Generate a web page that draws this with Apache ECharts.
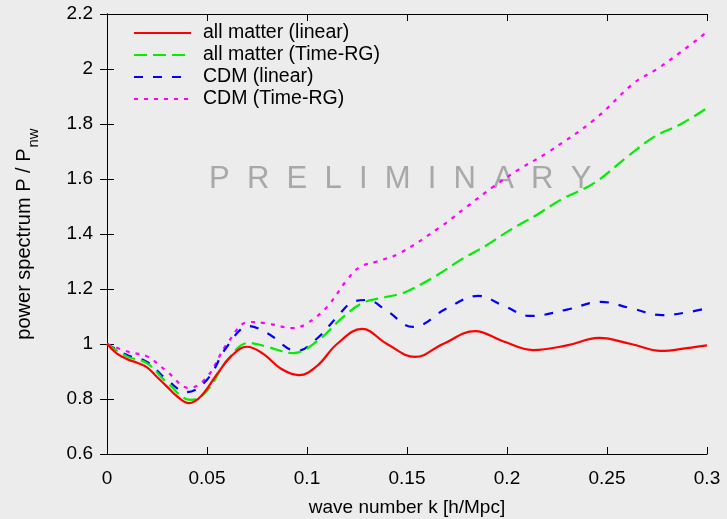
<!DOCTYPE html>
<html>
<head>
<meta charset="utf-8">
<script src="https://cdn.jsdelivr.net/npm/echarts@6/dist/echarts.min.js"></script>
<style>
  html, body { margin: 0; padding: 0; background: #ececec; }
  #chart { width: 727px; height: 519px; }
</style>
</head>
<body>
<div id="chart"></div>
<script>
// 各曲线的数据
const kRed = [0, 0.005, 0.01, 0.015, 0.02, 0.025, 0.03, 0.035, 0.041, 0.047, 0.055, 0.062, 0.07, 0.078, 0.087, 0.096, 0.105, 0.115, 0.1275, 0.14, 0.154, 0.168, 0.184, 0.198, 0.213, 0.23, 0.246, 0.262, 0.277, 0.29, 0.3];
const redVals = [1.0, 0.965, 0.945, 0.932, 0.915, 0.88, 0.845, 0.81, 0.785, 0.81, 0.89, 0.955, 0.99, 0.965, 0.91, 0.887, 0.92, 1.0, 1.055, 1.0, 0.953, 1.0, 1.047, 1.01, 0.978, 0.995, 1.022, 1.0, 0.975, 0.985, 0.995];

const kGreen = [0, 0.01, 0.02, 0.03, 0.042, 0.05, 0.06, 0.071, 0.08, 0.093, 0.105, 0.118, 0.128, 0.137, 0.147, 0.1515, 0.165, 0.1766, 0.19, 0.2017, 0.215, 0.2268, 0.2435, 0.26, 0.2735, 0.287, 0.3];
const greenVals = [1.0, 0.955, 0.93, 0.86, 0.797, 0.83, 0.94, 1.004, 0.99, 0.967, 1.01, 1.098, 1.15, 1.167, 1.183, 1.196, 1.25, 1.305, 1.36, 1.415, 1.47, 1.524, 1.585, 1.68, 1.753, 1.8, 1.858];

const kBlue = [0, 0.01, 0.02, 0.03, 0.04, 0.05, 0.06, 0.071, 0.08, 0.095, 0.105, 0.115, 0.123, 0.13, 0.14, 0.153, 0.17, 0.1857, 0.198, 0.2118, 0.23, 0.247, 0.262, 0.2776, 0.29, 0.3];
const blueVals = [1.0, 0.96, 0.935, 0.87, 0.825, 0.87, 0.99, 1.065, 1.04, 0.975, 1.02, 1.098, 1.153, 1.16, 1.12, 1.062, 1.13, 1.175, 1.14, 1.102, 1.125, 1.153, 1.13, 1.105, 1.115, 1.13];

const kMagenta = [0, 0.011, 0.02, 0.03, 0.041, 0.05, 0.06, 0.071, 0.08, 0.093, 0.1, 0.11, 0.12, 0.1264, 0.135, 0.1465, 0.1665, 0.18, 0.193, 0.206, 0.22, 0.2435, 0.2635, 0.275, 0.287, 0.3];
const magentaVals = [1.0, 0.971, 0.955, 0.9, 0.84, 0.88, 1.0, 1.08, 1.075, 1.058, 1.075, 1.135, 1.233, 1.28, 1.3, 1.331, 1.425, 1.5, 1.571, 1.635, 1.695, 1.815, 1.949, 2.0, 2.062, 2.135];

const seriesNames = ['all matter (linear)', 'all matter (Time-RG)', 'CDM (linear)', 'CDM (Time-RG)'];

function pairs(ks, vs) { return ks.map((k, i) => [k, vs[i]]); }

const myChart = echarts.init(document.getElementById('chart'));
const font = 'Liberation Sans, Arial, sans-serif';

const tick = { show: true, inside: true, length: 7, lineStyle: { color: '#000' } };
const line = { show: true, lineStyle: { color: '#000', width: 1 } };

const option = {
    backgroundColor: '#ececec',
    animation: false,
    textStyle: { fontFamily: font },
    grid: { left: 107, right: 20, top: 14, bottom: 65, outerBoundsMode: 'none' },
    legend: {
        orient: 'vertical',
        left: 128, top: 18,
        itemWidth: 57, itemHeight: 10, itemGap: 2,
        itemStyle: { opacity: 0 },
        textStyle: { fontSize: 19.5, lineHeight: 19, color: '#000', fontFamily: font, padding: [0, 0, 0, 7] },
        data: seriesNames
    },
    xAxis: [
        {
            type: 'value', min: 0, max: 0.3, interval: 0.05, position: 'bottom',
            axisLine: line, axisTick: tick, splitLine: { show: false },
            axisLabel: { fontSize: 19, color: '#000', margin: 15, fontFamily: font },
            name: 'wave number k [h/Mpc]', nameLocation: 'middle', nameGap: 44,
            nameTextStyle: { fontSize: 19, color: '#000', fontFamily: font }
        },
        {
            type: 'value', min: 0, max: 0.3, interval: 0.05, position: 'top',
            axisLine: line, axisTick: tick, splitLine: { show: false }, axisLabel: { show: false }
        }
    ],
    yAxis: [
        {
            type: 'value', min: 0.6, max: 2.2, interval: 0.2, position: 'left',
            axisLine: line, axisTick: tick, splitLine: { show: false },
            axisLabel: { fontSize: 19, color: '#000', margin: 14, fontFamily: font },
            name: '{a|power spectrum P / P}{s|nw}', nameLocation: 'middle', nameGap: 73,
            nameTextStyle: {
                fontSize: 20, color: '#000', fontFamily: font,
                rich: {
                    a: { fontSize: 20, lineHeight: 20, color: '#000', fontFamily: font, verticalAlign: 'top' },
                    s: { fontSize: 15, lineHeight: 15, color: '#000', fontFamily: font, verticalAlign: 'top', padding: [12, 0, 0, 1] }
                }
            }
        },
        {
            type: 'value', min: 0.6, max: 2.2, interval: 0.2, position: 'right',
            axisLine: line, axisTick: tick, splitLine: { show: false }, axisLabel: { show: false }
        }
    ],
    graphic: [
        {
            type: 'text', left: 209, top: 164, silent: true,
            style: {
                text: 'P  R  E  L  I  M  I  N  A  R  Y',
                fill: '#a8a8a8', fontSize: 31, fontFamily: font
            }
        }
    ],
    series: [
        {
            name: seriesNames[0], type: 'line', smooth: 0.4, showSymbol: false, symbol: 'none',
            lineStyle: { color: '#ff0000', width: 2.2 }, itemStyle: { color: '#ff0000' },
            data: pairs(kRed, redVals), z: 5
        },
        {
            name: seriesNames[1], type: 'line', smooth: 0.4, showSymbol: false, symbol: 'none',
            lineStyle: { color: '#00ee00', width: 2.2, type: [13, 6] }, itemStyle: { color: '#00ee00' },
            data: pairs(kGreen, greenVals), z: 4
        },
        {
            name: seriesNames[2], type: 'line', smooth: 0.4, showSymbol: false, symbol: 'none',
            lineStyle: { color: '#0000ff', width: 2.2, type: [9, 10] }, itemStyle: { color: '#0000ff' },
            data: pairs(kBlue, blueVals), z: 3
        },
        {
            name: seriesNames[3], type: 'line', smooth: 0.4, showSymbol: false, symbol: 'none',
            lineStyle: { color: '#ff00ff', width: 2.2, type: [4, 6] }, itemStyle: { color: '#ff00ff' },
            data: pairs(kMagenta, magentaVals), z: 2
        }
    ]
};
myChart.setOption(option);
window.addEventListener('resize', () => myChart.resize());
</script>
</body>
</html>
